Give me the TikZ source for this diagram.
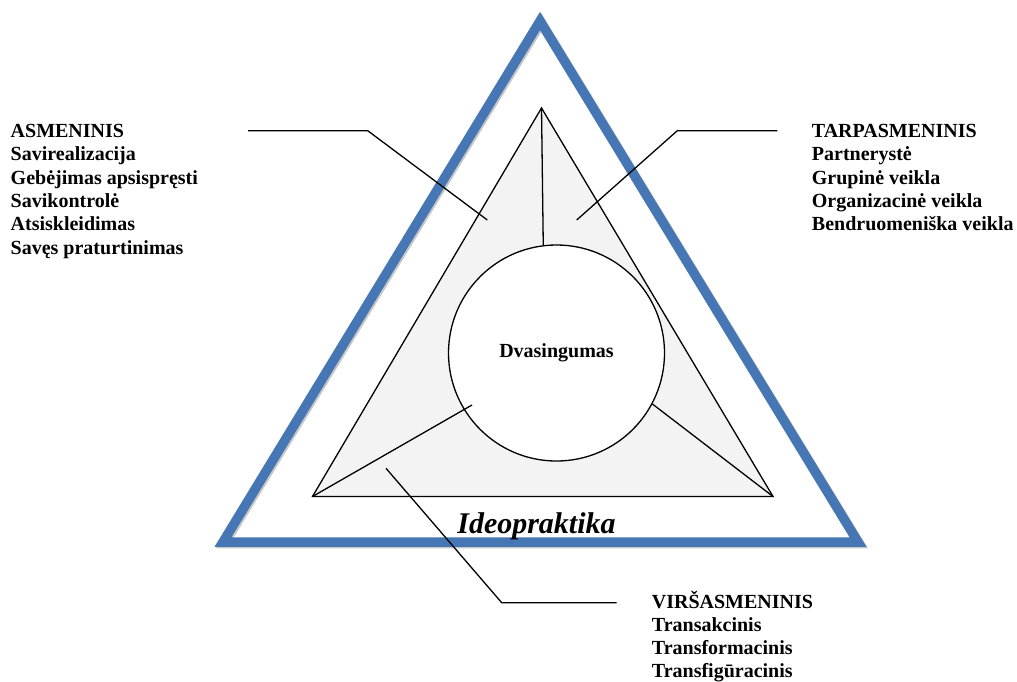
\documentclass[tikz,border=0pt]{standalone}
\usepackage{fontspec}
\setmainfont{Liberation Serif}
\definecolor{frameblue}{RGB}{70,119,180}
\definecolor{paleshade}{RGB}{242,243,242}
\tikzset{
  listtext/.style={anchor=north west,inner sep=0pt,align=left,font=\fontsize{20}{23.3}\selectfont\bfseries},
  leader/.style={line width=1.3pt},
}
\begin{document}
\begin{tikzpicture}[x=1pt,y=-1pt]
	\useasboundingbox (0,0) rectangle (1017,681);
	% outer frame
	\coordinate (OA) at (540,21);
	\coordinate (OL) at (223,542);
	\coordinate (OR) at (858,542);
	\draw[black!22,line width=9.5pt,line join=miter] ([shift={(1.5,1.5)}]OA)--([shift={(1.5,1.5)}]OL)--([shift={(1.5,1.5)}]OR)--cycle;
	\draw[frameblue,line width=9.5pt,line join=miter] (OA)--(OL)--(OR)--cycle;
	% inner triangle and circle
	\coordinate (IA) at (541.5,108);
	\coordinate (IL) at (312.5,496.5);
	\coordinate (IR) at (773,496.5);
	\filldraw[fill=paleshade,line width=1.3pt,line join=miter] (IA)--(IL)--(IR)--cycle;
	\node[circle,draw,fill=white,line width=1.3pt,minimum size=216pt,inner sep=0pt,
		font=\fontsize{20}{24}\selectfont\bfseries] (dvas) at (556.5,353) {Dvasingumas};
	\coordinate (LC) at (472,405);
	\draw[leader] (IA)--(dvas.97) (IL)--(LC) (IR)--(dvas.-28);
	\node[font=\fontsize{30}{36}\selectfont\bfseries\itshape,anchor=base] (ideo) at (536.5,533) {Ideopraktika};
	% lists
	\node[listtext] (asm) at (10.5,124.1) {ASMENINIS\\Savirealizacija\\Gebėjimas apsispręsti\\Savikontrolė\\Atsiskleidimas\\Savęs praturtinimas};
	\node[listtext] (tarp) at (811.7,124.1) {TARPASMENINIS\\Partnerystė\\Grupinė veikla\\Organizacinė veikla\\Bendruomeniška veikla};
	\node[listtext] (virs) at (651.7,590.5) {VIRŠASMENINIS\\Transakcinis\\Transformacinis\\Transfigūracinis};
	% leaders
	\coordinate (asmA) at (248,130.7);
	\coordinate (asmB) at (367.7,130.7);
	\coordinate (asmC) at (487.3,220);
	\coordinate (tarpA) at (777.3,130.7);
	\coordinate (tarpB) at (677.3,130.7);
	\coordinate (tarpC) at (576.7,220);
	\coordinate (virsA) at (616.7,602.7);
	\coordinate (virsB) at (501.7,602.7);
	\coordinate (virsC) at (386,468.3);
	\draw[leader] (asmA)--(asmB)--(asmC);
	\draw[leader] (tarpA)--(tarpB)--(tarpC);
	\draw[leader] (virsA)--(virsB)--(virsC);
\end{tikzpicture}
\end{document}
